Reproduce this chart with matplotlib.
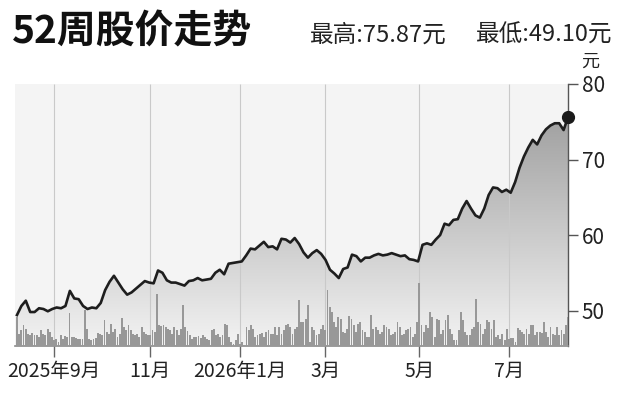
import matplotlib.pyplot as plt
import numpy as np
import pandas as pd
from matplotlib.colors import LinearSegmentedColormap

plt.rcParams['font.family'] = ['Noto Sans CJK SC', 'DejaVu Sans']

# 交易日历（美股休市日）
START = '2025-08-07'
HOLIDAYS = ['2025-09-01', '2025-11-27', '2025-12-25', '2026-01-01', '2026-01-19',
            '2026-02-16', '2026-04-03', '2026-05-25', '2026-06-19', '2026-07-03']

# 收盘价（约每两个交易日一个点），元
PRICES = [
    49.4, 50.6, 51.3, 49.8, 49.8, 50.3, 50.2, 49.9, 50.2, 50.4,
    50.3, 50.6, 52.6, 51.6, 51.5, 50.6, 50.2, 50.4, 50.3, 51.0,
    52.7, 53.8, 54.6, 53.7, 52.8, 52.1, 52.4, 52.9, 53.4, 53.9,
    53.7, 53.6, 55.3, 55.0, 54.0, 53.7, 53.7, 53.5, 53.3, 53.9,
    54.0, 54.3, 54.0, 54.1, 54.2, 55.0, 55.4, 54.8, 56.2, 56.3,
    56.4, 56.5, 57.3, 58.2, 58.1, 58.6, 59.1, 58.4, 58.5, 58.1,
    59.5, 59.4, 59.0, 59.6, 58.8, 57.7, 57.0, 57.6, 58.0, 57.5,
    56.7, 55.4, 54.9, 54.3, 55.5, 55.7, 57.4, 57.2, 56.5, 57.0,
    57.0, 57.3, 57.5, 57.3, 57.4, 57.6, 57.4, 57.2, 57.3, 56.8,
    56.7, 56.5, 58.7, 58.9, 58.7, 59.4, 60.0, 61.5, 61.3, 62.0,
    62.1, 63.5, 64.5, 63.5, 62.6, 62.3, 63.5, 65.3, 66.3, 66.2,
    65.7, 66.0, 65.6, 67.0, 68.9, 70.4, 71.6, 72.6, 72.0, 73.2,
    74.0, 74.5, 74.8, 74.8, 73.9, 75.6,
]

# 每日成交量（相对单位）
VOLUME = [
    29, 12, 16, 21, 17, 12, 11, 13, 11, 11, 9, 16, 12, 11, 17, 14, 9, 6, 7, 4,
    11, 7, 10, 9, 33, 9, 9, 8, 7, 7, 7, 36, 17, 7, 6, 7, 8, 13, 12, 11,
    26, 14, 12, 22, 14, 17, 9, 12, 28, 19, 16, 21, 16, 12, 11, 12, 9, 19, 14, 12,
    11, 11, 16,
    14, 52, 21, 20, 21, 19, 17, 16, 12, 19, 16, 11, 17, 41, 19, 15, 11, 7, 9, 9,
    10, 8, 11, 9, 7, 6, 16, 17, 11, 12, 9, 11, 22, 21, 9, 4, 2, 6, 12, 2,
    4, 1, 19, 16, 21, 17, 9, 11, 12, 13, 9, 14, 16, 12, 12, 19, 11, 19, 12, 16,
    21, 22, 19,
    12, 17, 19, 46, 24, 24, 27, 41, 4, 19, 16, 11, 12, 17, 21, 16, 56, 39, 34, 24,
    19, 29, 27, 14, 13, 17, 30, 27, 21, 14, 22, 24, 16, 14, 9, 9, 31, 17, 19, 16,
    12, 14, 21, 19, 17, 11, 12, 14, 24, 19, 11, 12, 16, 17, 19, 9, 12, 24, 63, 21,
    14, 21, 18,
    34, 29, 9, 27, 26, 12, 16, 26, 31, 17, 12, 6, 6, 16, 34, 26, 14, 11, 11, 17,
    19, 47, 24, 22, 12, 17, 26, 24, 17, 26, 9, 11, 7, 12, 6, 17, 7, 8, 8, 4,
    18, 16, 14, 12, 17, 12, 21, 21, 11, 14, 14, 13, 24, 14, 9, 19, 12, 11, 19, 11,
    16, 12, 21, 29,
]
VOL_TOP = 262  # 成交量轴顶端

TICK_MONTHS = ['2025-09', '2025-11', '2026-01', '2026-03', '2026-05', '2026-07']
TICK_LABELS = ['2025年9月', '11月', '2026年1月', '3月', '5月', '7月']
Y_TICKS = [50, 60, 70, 80]
HIGH = 75.87
LOW = 49.10

n = len(VOLUME)
dates = pd.bdate_range(start=START, periods=n, freq='C', holidays=HOLIDAYS)
day_idx = np.arange(n)
price_idx = np.linspace(0, n - 1, len(PRICES))
tick_pos = [int(np.searchsorted(dates, pd.Timestamp(m + '-01'))) for m in TICK_MONTHS]

ymin, ymax = 45.3, 80
xmin, xmax = -0.9, n - 1

fig = plt.figure(figsize=(6.26, 4.17), dpi=100)
ax = fig.add_axes([15 / 626, 71 / 417, 553 / 626, 262 / 417])
ax.set_facecolor('#f4f4f4')

# 价格线下方的渐变填充
cmap = LinearSegmentedColormap.from_list('fade', ['#f3f3f3', '#959595'])
grad = np.linspace(0, 1, 256).reshape(-1, 1)
im = ax.imshow(grad, extent=[xmin, xmax, ymin, ymax], origin='lower', cmap=cmap,
               aspect='auto', zorder=1)
area = ax.fill_between(price_idx, PRICES, ymin, facecolor='none', edgecolor='none')
im.set_clip_path(area.get_paths()[0], transform=ax.transData)

# 月份竖线
ax.vlines(tick_pos, ymin, ymax, colors='#c9c9c9', linewidth=0.8, zorder=2)

# 成交量柱
vol_scale = (ymax - ymin) / VOL_TOP
ax.bar(day_idx, np.array(VOLUME) * vol_scale, bottom=ymin, width=0.85,
       color='#989898', linewidth=0, zorder=3)

# 价格线和最新价圆点
ax.plot(price_idx, PRICES, color='#1e1e1e', linewidth=1.9, zorder=4,
        solid_joinstyle='round')
ax.plot(price_idx[-1], PRICES[-1], 'o', color='#1a1a1a', markersize=8.5,
        zorder=5, clip_on=False)

ax.set_xlim(xmin, xmax)
ax.set_ylim(ymin, ymax)
ax.set_xticks(tick_pos)
ax.set_xticklabels(TICK_LABELS)
ax.set_yticks(Y_TICKS)
ax.yaxis.tick_right()

for side in ['top', 'left']:
    ax.spines[side].set_visible(False)
ax.spines['right'].set_color('#555555')
ax.spines['right'].set_linewidth(1.0)
ax.spines['bottom'].set_color('#8a8a8a')
ax.spines['bottom'].set_linewidth(1.2)

ax.tick_params(axis='x', length=8, width=1, color='#666666', labelsize=14,
               pad=3, labelcolor='#222222')
ax.tick_params(axis='y', length=7, width=1, color='#555555', labelsize=15,
               pad=3, labelcolor='#222222')

# 标题与最高最低价
fig.text(12 / 626, 1 - 32 / 417, '52周股价走势', ha='left', va='center',
         fontsize=28, fontweight='black', color='#111111')
fig.text(310 / 626, 1 - 35 / 417, f'最高:{HIGH:.2f}元', ha='left', va='center',
         fontsize=17, color='#222222')
fig.text(612 / 626, 1 - 35 / 417, f'最低:{LOW:.2f}元', ha='right', va='center',
         fontsize=17, color='#222222')
fig.text(590 / 626, 1 - 62 / 417, '元', ha='center', va='center',
         fontsize=13, color='#222222')

fig.savefig('out.png', dpi=100)
